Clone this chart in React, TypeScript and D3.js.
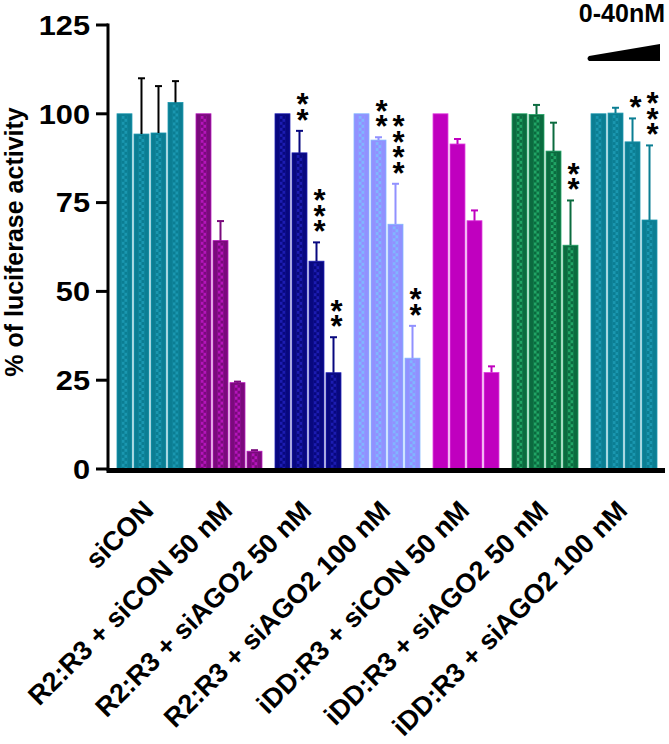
import React from "react";
import * as d3 from "d3";

const groups = [
  "siCON",
  "R2:R3 + siCON 50 nM",
  "R2:R3 + siAGO2 50 nM",
  "R2:R3 + siAGO2 100 nM",
  "iDD:R3 + siCON 50 nM",
  "iDD:R3 + siAGO2 50 nM",
  "iDD:R3 + siAGO2 100 nM",
];
const doses = ["d0", "d1", "d2", "d3"];
const means = [
  [100, 94.3, 94.6, 103.2],
  [100, 64.3, 24.3, 5.0],
  [100, 89.0, 58.5, 27.1],
  [100, 92.6, 68.9, 31.2],
  [100, 91.5, 69.9, 27.2],
  [100, 99.8, 89.5, 63.0],
  [100, 100.2, 92.1, 70.1],
];
const errors = [
  [0, 15.7, 13.2, 6.0],
  [0, 5.5, 0.3, 0.3],
  [0, 6.2, 5.3, 10.0],
  [0, 0.8, 11.4, 9.1],
  [0, 1.4, 2.9, 1.7],
  [0, 2.7, 8.0, 12.6],
  [0, 1.5, 6.6, 21.0],
];
const stars = [
  [0, 0, 0, 0],
  [0, 0, 0, 0],
  [0, 2, 3, 2],
  [0, 2, 4, 2],
  [0, 0, 0, 0],
  [0, 0, 0, 2],
  [0, 0, 1, 3],
];
const yTicks = [0, 25, 50, 75, 100, 125];
const baseColors = ["#0b7e93", "#7a0a7c", "#08087f", "#9191ff", "#c000bf", "#0b6b3f", "#0b7e93"];
const checkColors = ["#1a97b0", "#b514bb", "#1c1cb2", "#80b6ff", null, "#20a565", "#1a97b0"];
const errColors = ["#000000", "#7a0a7c", "#08087f", "#9191ff", "#c000bf", "#0b6b3f", "#0b7e93"];
const yLabel = "% of luciferase activity";
const doseLabel = "0-40nM";

const FONT = "Arial, 'Liberation Sans', sans-serif";

export default function App() {
  const W = 669, H = 744;
  const y = d3.scaleLinear().domain([0, 125]).range([469, 25]);
  const x0 = d3.scaleBand<string>().domain(groups).range([108, 666]).paddingInner(0.165).paddingOuter(0.114);
  const x1 = d3.scaleBand<string>().domain(doses).range([0, x0.bandwidth()]).paddingInner(0.12);
  const bw = x1.bandwidth();

  const patterns: any[] = [];
  const bars: any[] = [];
  const errs: any[] = [];
  const starEls: any[] = [];
  const STAR_FS = 31;
  const STAR_STEP = 15.5;
  const STAR_ADV = STAR_FS * 0.389;

  groups.forEach((g, gi) => {
    doses.forEach((d, di) => {
      const v = means[gi][di];
      const e = errors[gi][di];
      const bx = (x0(g) as number) + (x1(d) as number);
      const cx = bx + bw / 2;
      const top = y(v);
      const bottom = y(0);
      bars.push(
        <rect key={`b${gi}-${di}`} x={bx} y={top} width={bw} height={bottom - top}
          fill={baseColors[gi]} stroke={checkColors[gi] || "#e040e0"} strokeWidth={0.8} />
      );
      if (checkColors[gi]) {
        const pid = `p${gi}-${di}`;
        patterns.push(
          <pattern key={pid} id={pid} patternUnits="userSpaceOnUse" x={cx - 3} y={top + 2} width={6} height={6}>
            <rect x={0} y={0} width={3} height={3} fill={checkColors[gi]} />
            <rect x={3} y={3} width={3} height={3} fill={checkColors[gi]} />
          </pattern>
        );
        bars.push(
          <rect key={`bp${gi}-${di}`} x={cx - 3} y={top + 2} width={6} height={Math.max(0, bottom - top - 2)} fill={`url(#${pid})`} />
        );
      }
      if (e > 0) {
        const ty = y(v + e);
        errs.push(
          <g key={`e${gi}-${di}`} stroke={errColors[gi]} strokeWidth={2}>
            <line x1={cx} x2={cx} y1={top} y2={ty} />
            <line x1={cx - 3.5} x2={cx + 3.5} y1={ty} y2={ty} />
          </g>
        );
      }
      const n = stars[gi][di];
      if (n > 0) {
        const capY = y(v + e);
        // vertical stack of upright asterisks: text runs upward, each glyph turned back upright
        const ax = cx + 3 - STAR_ADV / 2;
        const ay = capY - 18 + STAR_FS * 0.58;
        starEls.push(
          <text key={`s${gi}-${di}`} transform={`translate(${ax},${ay}) rotate(-90)`} rotate="90"
            fontFamily={FONT} fontWeight="bold" fontSize={STAR_FS} fill="#000"
            letterSpacing={STAR_STEP - STAR_ADV}>{"*".repeat(n)}</text>
        );
      }
    });
  });

  return (
    <svg width={W} height={H} style={{ position: "absolute", left: 0, top: 0, background: "#fff" }}>
      <defs>{patterns}</defs>
      {bars}
      {errs}
      {starEls}
      {/* y axis */}
      <line x1={108} x2={108} y1={y(125) - 1.5} y2={y(0) + 2} stroke="#000" strokeWidth={3} />
      {yTicks.map((t) => (
        <g key={t}>
          <line x1={96} x2={108} y1={y(t)} y2={y(t)} stroke="#000" strokeWidth={3} />
          <text transform={`translate(90,${y(t)}) scale(1.14,1)`} dy="0.36em" textAnchor="end"
            fontFamily={FONT} fontWeight="bold" fontSize={27}>{t}</text>
        </g>
      ))}
      {/* x axis */}
      <line x1={106.5} x2={665} y1={y(0) + 1.5} y2={y(0) + 1.5} stroke="#000" strokeWidth={5} />
      {groups.map((g) => {
        const gx = (x0(g) as number) + x0.bandwidth() / 2 + 5;
        const gy = 512;
        return (
          <text key={g} transform={`translate(${gx},${gy}) rotate(-45)`} textAnchor="end"
            fontFamily={FONT} fontWeight="bold" fontSize={27}>{g}</text>
        );
      })}
      <text transform={`translate(23,242) rotate(-90)`} textAnchor="middle" fontFamily={FONT}
        fontWeight="bold" fontSize={25}>{yLabel}</text>
      <text x={665} y={22} textAnchor="end" fontFamily={FONT} fontWeight="bold" fontSize={25}>{doseLabel}</text>
      <path d="M589,56 L660,44 L660,61 L589,61 Q586,58.5 589,56 Z" fill="#000" />
    </svg>
  );
}
